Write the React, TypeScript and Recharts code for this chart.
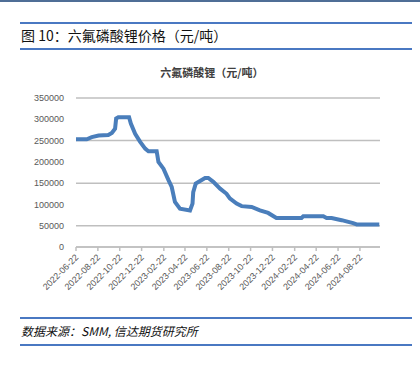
import React from "react";
import { LineChart, Line, XAxis, YAxis, CartesianGrid } from "recharts";

// 日期与价格（元/吨），读自原图
const dates = [
	"2022-06-22", "2022-07-22", "2022-08-05", "2022-08-24", "2022-09-20", "2022-09-30",
	"2022-10-09", "2022-10-12", "2022-10-18", "2022-11-17", "2022-11-22", "2022-12-04",
	"2022-12-18", "2023-01-01", "2023-01-10", "2023-02-02", "2023-02-07", "2023-02-21",
	"2023-03-07", "2023-03-16", "2023-03-25", "2023-04-08", "2023-05-06", "2023-05-13",
	"2023-05-15", "2023-05-22", "2023-06-03", "2023-06-17", "2023-06-26", "2023-07-10",
	"2023-07-29", "2023-08-16", "2023-08-25", "2023-09-13", "2023-09-27", "2023-10-25",
	"2023-11-17", "2023-12-10", "2024-01-02", "2024-03-12", "2024-03-17", "2024-05-12",
	"2024-05-21", "2024-06-04", "2024-07-02", "2024-08-03", "2024-08-13", "2024-10-15",
];
const prices = [
	253000, 253000, 258000, 262000, 263000, 268000,
	278000, 302000, 305000, 305000, 290000, 266000,
	247000, 231000, 225000, 225000, 200000, 184000,
	157000, 141000, 106000, 90000, 86000, 102000,
	129000, 149000, 155000, 162000, 162000, 153000,
	137000, 125000, 114000, 102000, 96000, 94000,
	86000, 80000, 68000, 68000, 72000, 72000,
	68000, 68000, 63000, 56000, 53000, 53000,
];
const tickDates = [
	"2022-06-22", "2022-08-22", "2022-10-22", "2022-12-22", "2023-02-22", "2023-04-22",
	"2023-06-22", "2023-08-22", "2023-10-22", "2023-12-22", "2024-02-22", "2024-04-22",
	"2024-06-22", "2024-08-22",
];
const yTicks = [0, 50000, 100000, 150000, 200000, 250000, 300000, 350000];

const ts = (d: string) => Date.parse(d + "T00:00:00Z");
const data = dates.map((d, i) => ({ t: ts(d), v: prices[i] }));
const xTicks = tickDates.map(ts);
const xMax = ts("2022-06-22") + 848 * 86400000;

const fmt = (t: number) => new Date(t).toISOString().slice(0, 10);

const DateTick = (props: any) => {
	const { x, y, payload } = props;
	return (
		<g transform={`translate(${x + 3},${y + 5})`}>
			<text
				x={0}
				y={0}
				textAnchor="end"
				transform="rotate(-45)"
				fontSize={9}
				fill="#595959"
				fontFamily="Liberation Sans, Arial, sans-serif"
			>
				{fmt(payload.value)}
			</text>
		</g>
	);
};

const rule = (top: number) => (
	<div style={{ position: "absolute", left: 20, top, width: 392, height: 2, background: "#4a78c2" }} />
);

export default function App() {
	return (
		<div style={{ position: "absolute", left: 0, top: 0, width: 420, height: 368, background: "#fff" }}>
			<div style={{ position: "absolute", left: 0, top: 0, width: 420, height: 2, background: "#4f6e96" }} />
			{rule(22)}
			<div
				style={{
					position: "absolute",
					left: 21,
					top: 27,
					fontSize: 14,
					fontFamily: "Noto Sans CJK SC, sans-serif",
					color: "#111",
					lineHeight: "16px",
				}}
			>
				图 10：六氟磷酸锂价格（元/吨）
			</div>
			{rule(48)}
			<div style={{ position: "absolute", left: 0, top: 0 }}>
				<LineChart width={420} height={310} data={data} margin={{ top: 98, right: 40, bottom: 0, left: 0 }}>
					<text
						x={212}
						y={77}
						textAnchor="middle"
						fontSize={11}
						fontWeight="bold"
						fill="#404040"
						fontFamily="Noto Sans CJK SC, sans-serif"
					>
						六氟磷酸锂（元/吨）
					</text>
					<CartesianGrid vertical={false} stroke="#bfbfbf" strokeWidth={1.5} />
					<XAxis
						dataKey="t"
						type="number"
						domain={[ts("2022-06-22"), xMax]}
						ticks={xTicks}
						tick={<DateTick />}
						interval={0}
						height={63}
						stroke="#bfbfbf"
						strokeWidth={1.5}
						tickSize={4}
					/>
					<YAxis
						domain={[0, 350000]}
						ticks={yTicks}
						width={76}
						axisLine={false}
						tickLine={false}
						tickMargin={6}
						tick={{ fontSize: 9, fill: "#595959", fontFamily: "Liberation Sans, Arial, sans-serif" }}
					/>
					<Line
						type="linear"
						dataKey="v"
						stroke="#4a7ebb"
						strokeWidth={4}
						dot={false}
						isAnimationActive={false}
					/>
				</LineChart>
			</div>
			{rule(317)}
			<div
				style={{
					position: "absolute",
					left: 21,
					top: 323,
					fontSize: 12,
					fontStyle: "italic",
					fontFamily: "Noto Sans CJK SC, sans-serif",
					color: "#111",
					lineHeight: "16px",
				}}
			>
				数据来源：SMM, 信达期货研究所
			</div>
			{rule(344)}
		</div>
	);
}
